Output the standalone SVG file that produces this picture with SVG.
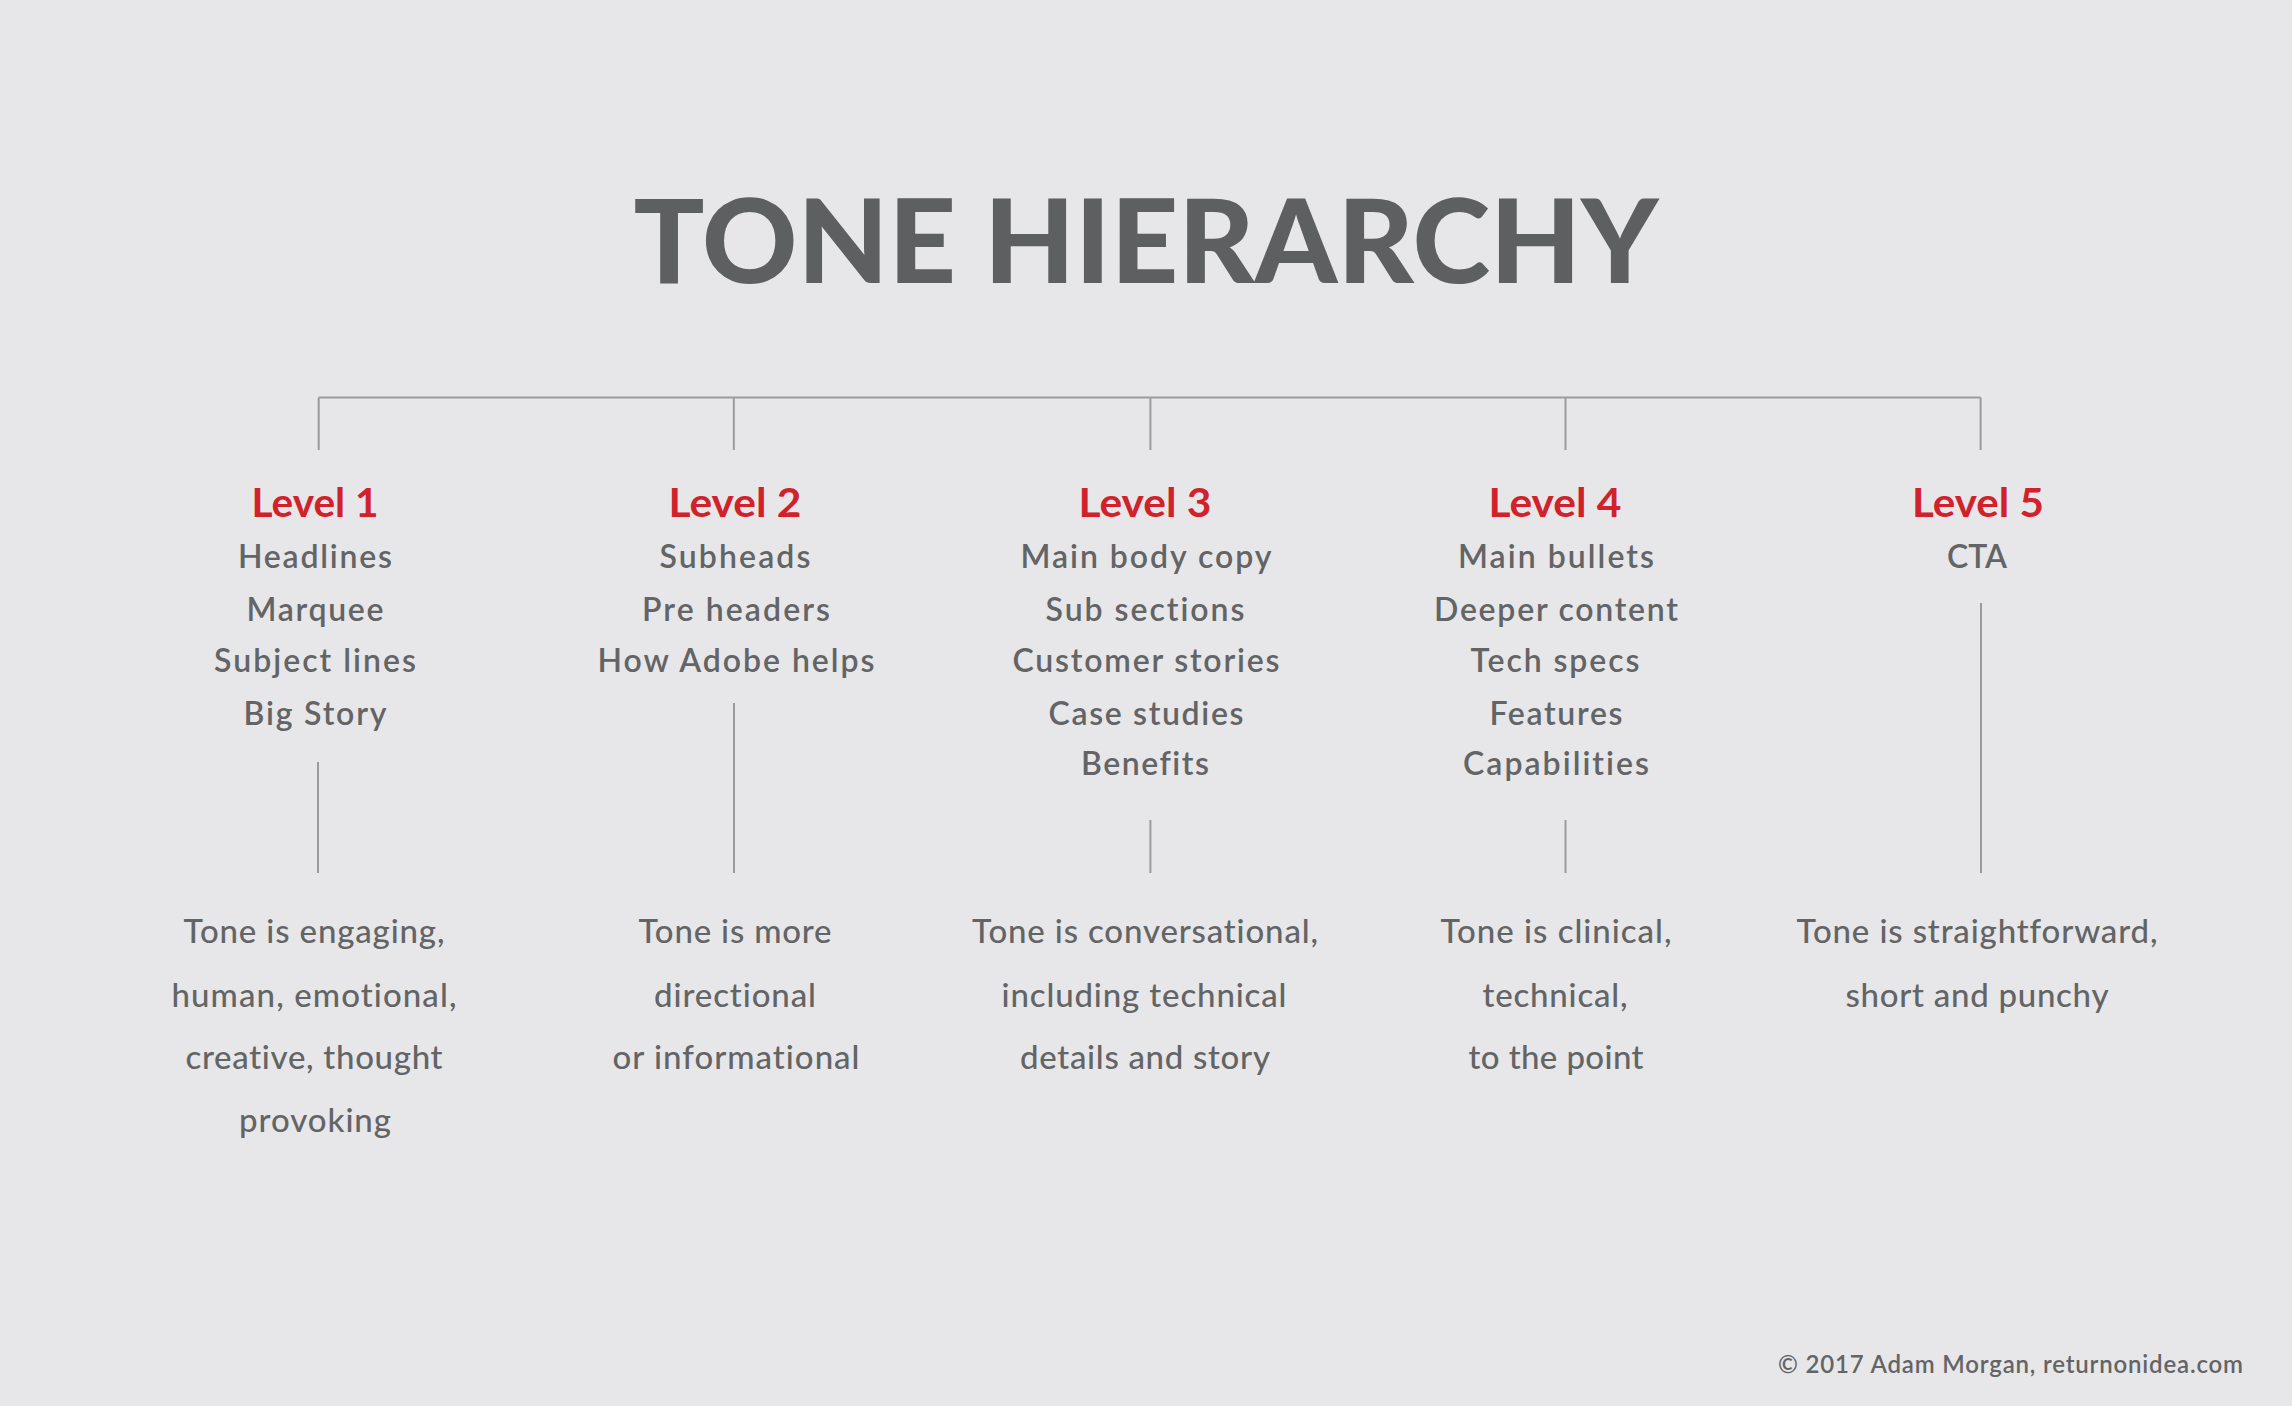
<svg xmlns="http://www.w3.org/2000/svg" width="2292" height="1406" viewBox="0 0 2292 1406">
<style>
text{font-variant-ligatures:none;font-family:Lato,"Open Sans",sans-serif}
.bg{fill:#e7e7e9}
.ln{stroke:#9b9b9d;stroke-width:2;fill:none}
.title{font-weight:900;font-size:116px;fill:#5e5f61;text-anchor:middle}
.lvl{font-weight:700;font-size:40px;fill:#d1222b;text-anchor:middle}
.item{font-weight:600;font-size:32px;fill:#636466;text-anchor:middle}
.desc{font-weight:500;font-size:33px;fill:#636466;text-anchor:middle}
.foot{font-weight:600;font-size:24px;fill:#636466;text-anchor:end}
</style>
<rect class="bg" x="0" y="0" width="2292" height="1406"/>
<text id="title" class="title" x="1146" y="283" textLength="1025" lengthAdjust="spacingAndGlyphs">TONE HIERARCHY</text>
<g id="connectors">
<path class="ln" d="M318.7 397.6 H1980.6 M318.7 397.6 V450 M733.8 397.6 V450 M1150.4 397.6 V450 M1565.5 397.6 V450 M1980.6 397.6 V450"/>
<path class="ln" d="M318 762 V873 M734 703 V873 M1150.4 820 V873 M1565.5 820 V873 M1981 603 V873"/>
</g>
<g id="level1">
<text class="lvl" x="315" y="517" textLength="127" lengthAdjust="spacingAndGlyphs">Level 1</text>
<text class="item" x="315" y="568" textLength="154" lengthAdjust="spacing">Headlines</text>
<text class="item" x="315" y="621" textLength="137" lengthAdjust="spacing">Marquee</text>
<text class="item" x="315" y="672" textLength="202" lengthAdjust="spacing">Subject lines</text>
<text class="item" x="315" y="725" textLength="143" lengthAdjust="spacing">Big Story</text>
<text class="desc" x="314" y="943" textLength="261" lengthAdjust="spacing">Tone is engaging,</text>
<text class="desc" x="314" y="1007" textLength="285" lengthAdjust="spacing">human, emotional,</text>
<text class="desc" x="314" y="1069" textLength="257" lengthAdjust="spacing">creative, thought</text>
<text class="desc" x="315" y="1132" textLength="152" lengthAdjust="spacing">provoking</text>
</g>
<g id="level2">
<text class="lvl" x="735" y="517" textLength="133" lengthAdjust="spacingAndGlyphs">Level 2</text>
<text class="item" x="735" y="568" textLength="151" lengthAdjust="spacing">Subheads</text>
<text class="item" x="736" y="621" textLength="188" lengthAdjust="spacing">Pre headers</text>
<text class="item" x="736" y="672" textLength="277" lengthAdjust="spacing">How Adobe helps</text>
<text class="desc" x="735" y="943" textLength="193" lengthAdjust="spacing">Tone is more</text>
<text class="desc" x="735" y="1007" textLength="162" lengthAdjust="spacing">directional</text>
<text class="desc" x="736" y="1069" textLength="247" lengthAdjust="spacing">or informational</text>
</g>
<g id="level3">
<text class="lvl" x="1145" y="517" textLength="133" lengthAdjust="spacingAndGlyphs">Level 3</text>
<text class="item" x="1146" y="568" textLength="251" lengthAdjust="spacing">Main body copy</text>
<text class="item" x="1145" y="621" textLength="199" lengthAdjust="spacing">Sub sections</text>
<text class="item" x="1146" y="672" textLength="267" lengthAdjust="spacing">Customer stories</text>
<text class="item" x="1146" y="725" textLength="195" lengthAdjust="spacing">Case studies</text>
<text class="item" x="1145" y="775" textLength="128" lengthAdjust="spacing">Benefits</text>
<text class="desc" x="1145" y="943" textLength="346" lengthAdjust="spacing">Tone is conversational,</text>
<text class="desc" x="1144" y="1007" textLength="285" lengthAdjust="spacing">including technical</text>
<text class="desc" x="1145" y="1069" textLength="250" lengthAdjust="spacing">details and story</text>
</g>
<g id="level4">
<text class="lvl" x="1555" y="517" textLength="133" lengthAdjust="spacingAndGlyphs">Level 4</text>
<text class="item" x="1556" y="568" textLength="196" lengthAdjust="spacing">Main bullets</text>
<text class="item" x="1556" y="621" textLength="244" lengthAdjust="spacing">Deeper content</text>
<text class="item" x="1555" y="672" textLength="169" lengthAdjust="spacing">Tech specs</text>
<text class="item" x="1556" y="725" textLength="133" lengthAdjust="spacing">Features</text>
<text class="item" x="1556" y="775" textLength="186" lengthAdjust="spacing">Capabilities</text>
<text class="desc" x="1556" y="943" textLength="231" lengthAdjust="spacing">Tone is clinical,</text>
<text class="desc" x="1555" y="1007" textLength="145" lengthAdjust="spacing">technical,</text>
<text class="desc" x="1556" y="1069" textLength="175" lengthAdjust="spacing">to the point</text>
</g>
<g id="level5">
<text class="lvl" x="1978" y="517" textLength="132" lengthAdjust="spacingAndGlyphs">Level 5</text>
<text class="item" x="1977" y="568" textLength="60" lengthAdjust="spacing">CTA</text>
<text class="desc" x="1977" y="943" textLength="361" lengthAdjust="spacing">Tone is straightforward,</text>
<text class="desc" x="1977" y="1007" textLength="263" lengthAdjust="spacing">short and punchy</text>
</g>
<text id="footer" class="foot" x="2243" y="1373" textLength="465" lengthAdjust="spacing">© 2017 Adam Morgan, returnonidea.com</text>
</svg>
